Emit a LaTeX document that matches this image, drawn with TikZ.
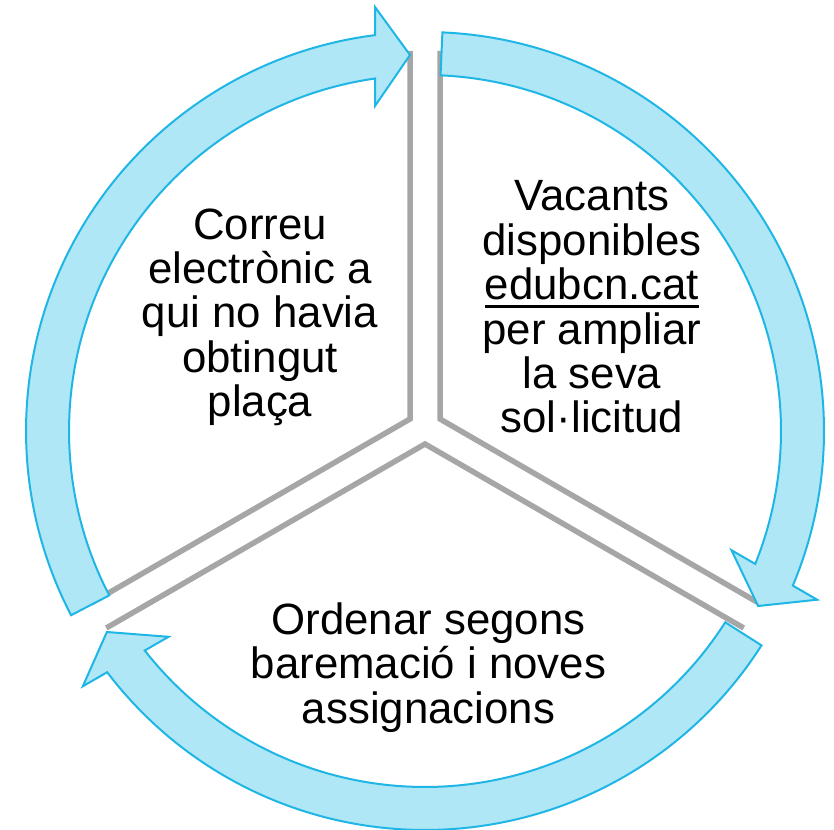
\documentclass[tikz,border=0pt]{standalone}
\usepackage{fontspec}
\setmainfont{Liberation Sans}
\definecolor{afill}{HTML}{B0E7F6}
\definecolor{aline}{HTML}{1FB6E6}
\definecolor{sepgray}{HTML}{A6A6A6}
\newcommand\ulink[1]{\vtop{\hbox{#1}\kern5pt\hrule height 2.4pt}}
\newcommand\ls{\rule[-10.4pt]{0pt}{44.4pt}}
\setlength{\lineskiplimit}{-60pt}
\begin{document}
\begin{tikzpicture}[x=1pt,y=1pt,
  sepline/.style={draw=sepgray,line width=5.5pt,line join=miter},
  cyc/.style={fill=afill,draw=aline,line width=2pt,line join=miter},
  lbl/.style={align=center,inner sep=0pt,font=\fontsize{43.8}{44.4}\selectfont}]
\useasboundingbox (0,0) rectangle (834,829);
\coordinate (C) at (425,398);
% separators
\coordinate (LA) at (410,410);
\coordinate (LT) at (410,778);
\coordinate (LE) at (91.3,226);
\coordinate (RA) at (440,410);
\coordinate (RT) at (440,778);
\coordinate (RE) at (758.7,226);
\coordinate (BA) at (425,385);
\coordinate (BL) at (106.3,201);
\coordinate (BR) at (743.7,201);
\draw[sepline] (LT) -- (LA) -- (LE);
\draw[sepline] (RT) -- (RA) -- (RE);
\draw[sepline] (BL) -- (BA) -- (BR);
% circular arrows
\foreach \k in {0,1,2} {
\begin{scope}[shift={(C)},rotate=-120*\k]
\path[cyc] (97.2:399) arc[start angle=97.2,end angle=207.5,radius=399]
  -- (207.5:356) arc[start angle=207.5,end angle=98.07,radius=356]
  -- (-50,325) -- (-15,376) -- (-50,424) -- cycle;
\end{scope}}
% labels
\node[lbl] (t1) at (260,512.8) {\ls Correu\\\ls electrònic a\\\ls qui no havia\\\ls obtingut\\\ls plaça};
\node[lbl] (t2) at (592,518.8) {\ls Vacants\\\ls disponibles\\\ls\ulink{edubcn.cat}\\\ls per ampliar\\\ls la seva\\\ls sol·licitud};
\node[lbl] (t3) at (428.5,161.8) {\ls Ordenar segons\\\ls baremació i noves\\\ls assignacions};
\end{tikzpicture}
\end{document}
